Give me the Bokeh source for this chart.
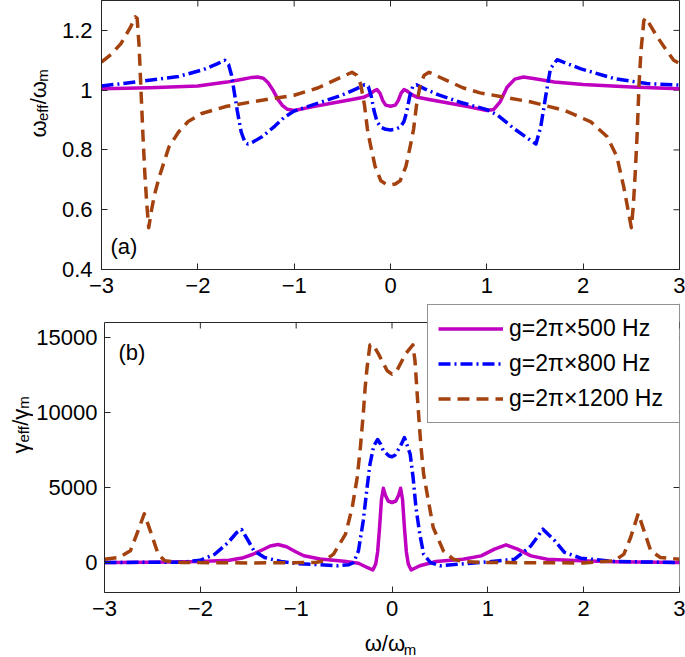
from bokeh.plotting import figure
from bokeh.models import FixedTicker, Label, Legend, LegendItem, Range1d, Span
from bokeh.layouts import column, row
from bokeh.embed import file_html
from bokeh.resources import INLINE

# ---------------- data ----------------
x_ticks = [-3, -2, -1, 0, 1, 2, 3]
x_tick_labels = ["−3", "−2", "−1", "0", "1", "2", "3"]
top_y_ticks = [0.4, 0.6, 0.8, 1.0, 1.2]
top_y_tick_labels = ["0.4", "0.6", "0.8", "1", "1.2"]
bot_y_ticks = [0, 5000, 10000, 15000]
bot_y_tick_labels = ["0", "5000", "10000", "15000"]
series_names = ["g=2π×500 Hz", "g=2π×800 Hz", "g=2π×1200 Hz"]

# (a) omega_eff / omega_m
w500_x = [-3.0, -2.5, -2.0, -1.7, -1.55, -1.45, -1.38, -1.32, -1.27, -1.22, -1.17, -1.12, -1.07, -1.0,
          -0.8, -0.6, -0.4, -0.28, -0.22, -0.17, -0.14, -0.11, -0.08, -0.05, 0.0,
          0.05, 0.08, 0.11, 0.14, 0.17, 0.22, 0.28, 0.4, 0.6, 0.8, 1.0, 1.07, 1.14, 1.21, 1.29,
          1.38, 1.5, 1.7, 2.0, 2.5, 3.0]
w500_y = [1.005, 1.008, 1.014, 1.027, 1.036, 1.042, 1.044, 1.040, 1.025, 1.000, 0.970, 0.948, 0.936, 0.932,
          0.945, 0.957, 0.969, 0.976, 0.985, 0.998, 1.002, 0.990, 0.965, 0.950, 0.946,
          0.950, 0.965, 0.990, 1.002, 0.998, 0.985, 0.976, 0.969, 0.957, 0.945, 0.932, 0.935, 0.962, 1.010, 1.037,
          1.044, 1.038, 1.027, 1.019, 1.011, 1.005]

w800_x = [-3.0, -2.6, -2.2, -1.95, -1.8, -1.72, -1.68, -1.65, -1.62, -1.59, -1.55, -1.51, -1.48, -1.42,
          -1.33, -1.2, -1.1, -1.0, -0.75, -0.5, -0.35, -0.27, -0.23, -0.2, -0.17, -0.14, -0.1, -0.05, 0.0,
          0.05, 0.1, 0.14, 0.17, 0.2, 0.23, 0.27, 0.35, 0.5, 0.75, 1.0, 1.11, 1.28, 1.45, 1.51, 1.56, 1.61,
          1.66, 1.73, 1.97, 2.32, 2.66, 3.0]
w800_y = [1.014, 1.029, 1.046, 1.068, 1.088, 1.100, 1.085, 1.050, 0.990, 0.930, 0.860, 0.825, 0.820, 0.828,
          0.845, 0.880, 0.910, 0.930, 0.957, 0.984, 1.005, 1.018, 1.012, 0.980, 0.930, 0.895, 0.876, 0.869, 0.867,
          0.869, 0.876, 0.895, 0.930, 0.980, 1.012, 1.018, 1.005, 0.984, 0.957, 0.935, 0.917, 0.872, 0.833, 0.820,
          0.878, 0.978, 1.072, 1.102, 1.072, 1.039, 1.022, 1.017]

w1200_x = [-3.0, -2.9, -2.8, -2.7, -2.65, -2.63, -2.61, -2.59, -2.57, -2.55, -2.53, -2.51, -2.48, -2.45,
           -2.4, -2.3, -2.2, -2.1, -1.96, -1.7, -1.4, -1.0, -0.75, -0.5, -0.4, -0.35, -0.31, -0.27, -0.24,
           -0.21, -0.16, -0.1, -0.05, 0.0, 0.05, 0.1, 0.16, 0.21, 0.24, 0.27, 0.31, 0.35, 0.4, 0.5, 0.75,
           0.93, 1.45, 1.8, 2.08, 2.25, 2.35, 2.42, 2.46, 2.5, 2.52, 2.54, 2.56, 2.58, 2.6, 2.63, 2.65,
           2.7, 2.77, 2.85, 2.94, 3.0]
w1200_y = [1.094, 1.120, 1.155, 1.210, 1.245, 1.240, 1.150, 1.000, 0.850, 0.720, 0.620, 0.540, 0.600, 0.650,
           0.710, 0.810, 0.860, 0.895, 0.922, 0.946, 0.963, 0.983, 1.008, 1.045, 1.060, 1.050, 1.020, 0.950,
           0.870, 0.820, 0.745, 0.697, 0.686, 0.683, 0.686, 0.697, 0.745, 0.820, 0.870, 0.950, 1.020, 1.050,
           1.060, 1.045, 1.008, 0.991, 0.961, 0.933, 0.894, 0.844, 0.778, 0.678, 0.610, 0.540, 0.610, 0.720,
           0.850, 1.020, 1.130, 1.233, 1.242, 1.215, 1.178, 1.140, 1.100, 1.089]

# (b) gamma_eff / gamma_m
g500_x = [-3.0, -2.5, -2.0, -1.7, -1.55, -1.45, -1.35, -1.27, -1.19, -1.1, -1.0, -0.92, -0.75, -0.5,
          -0.35, -0.26, -0.2, -0.17, -0.15, -0.13, -0.11, -0.09, -0.07, -0.04, 0.0,
          0.04, 0.07, 0.09, 0.11, 0.13, 0.15, 0.17, 0.2, 0.29, 0.46, 0.74, 0.93, 1.07, 1.19, 1.31,
          1.45, 1.62, 1.97, 2.32, 3.0]
g500_y = [0, 20, 70, 150, 320, 550, 850, 1100, 1200, 1050, 700, 450, 230, 80,
          -50, -330, -500, -100, 700, 2300, 4200, 4950, 4500, 4100, 4000,
          4100, 4500, 4950, 4200, 2300, 700, -100, -500, -220, 70, 220, 440, 890, 1180, 890,
          440, 220, 110, 44, 0]

g800_x = [-3.0, -2.2, -2.0, -1.85, -1.71, -1.62, -1.57, -1.5, -1.44, -1.33, -1.16, -1.0, -0.75, -0.57,
          -0.45, -0.4, -0.35, -0.3, -0.26, -0.23, -0.19, -0.15, -0.12, -0.09, -0.03, 0.0, 0.03, 0.09,
          0.13, 0.19, 0.22, 0.25, 0.29, 0.33, 0.4, 0.5, 0.71, 0.93, 1.28, 1.45, 1.575, 1.7, 1.8, 1.97,
          2.32, 3.0]
g800_y = [0, 20, 150, 550, 1330, 2000, 2200, 1450, 780, 330, 70, -70, -150, -220,
          -150, 0, 780, 2780, 5000, 6550, 7780, 8200, 7900, 7450, 7100, 7050, 7150, 7780,
          8330, 7220, 5670, 3670, 1890, 560, 0, -220, -110, 0, 220, 1110, 2220, 1440, 670, 290,
          67, 0]

g1200_x = [-3.0, -2.85, -2.73, -2.65, -2.585, -2.51, -2.44, -2.37, -2.2, -1.5, -0.8, -0.71, -0.61,
           -0.485, -0.415, -0.363, -0.33, -0.3, -0.28, -0.26, -0.23, -0.2, -0.14, -0.05, 0.0, 0.05,
           0.14, 0.218, 0.24, 0.27, 0.3, 0.33, 0.38, 0.43, 0.536, 0.64, 0.74, 1.0, 2.0, 2.32, 2.42,
           2.49, 2.57, 2.63, 2.7, 2.8, 3.0]
g1200_y = [220, 330, 780, 2110, 3250, 1890, 560, 110, 0, -30, 0, 110, 560,
           1890, 3670, 5670, 7670, 9890, 11670, 13000, 14500, 14550, 13890, 12780, 12560, 12780,
           13890, 14510, 13440, 10560, 7890, 5890, 4110, 2330, 780, 220, 67, 0, -30, 111, 556,
           1667, 3267, 2111, 778, 333, 222]

# ---------------- style ----------------
FONT = "Liberation Sans"
AX = "#262626"
COLORS = ["#c000c0", "#0000ff", "#a3420f"]
DASHES = ["solid", "12 4 2 4", "12 7"]
LW = 3.5
TICK = 6  # px, inward
EM = {"ω": 0.75, "γ": 0.5, "/": 0.278, "e": 0.556, "f": 0.278, "m": 0.833}

FRAME_L, FRAME_R = 101, 679
FRAME_W = FRAME_R - FRAME_L


def style_axis(ax, ticks, labels, standoff):
    ax.ticker = FixedTicker(ticks=ticks)
    ax.major_label_overrides = {t: l for t, l in zip(ticks, labels)}
    ax.major_tick_in = TICK
    ax.major_tick_out = 0
    ax.minor_tick_line_color = None
    ax.axis_line_color = AX
    ax.major_tick_line_color = AX
    ax.major_label_text_font = FONT
    ax.major_label_text_font_size = "22px"
    ax.major_label_text_color = "black"
    ax.major_label_standoff = standoff


def make_fig(width, height, left, top, bottom, yr):
    p = figure(width=width, height=height, x_range=Range1d(-3, 3), y_range=Range1d(*yr),
               output_backend="svg", toolbar_location=None, min_border_left=left,
               min_border_right=685 - FRAME_R, min_border_top=top, min_border_bottom=bottom)
    p.grid.visible = False
    p.background_fill_color = "white"
    p.border_fill_color = "white"
    return p


def add_text(p, text, x, y, size, angle=0):
    p.add_layout(Label(x=x, y=y, x_units="screen", y_units="screen", text=text, angle=angle,
                       angle_units="deg", text_font=FONT, text_font_size=f"{size}px",
                       text_align="left", text_baseline="alphabetic", text_color="black"))


def width_of(text, size):
    return sum(EM.get(c, 0.556) for c in text) * size


def vertical_label(p, pieces, x0, y0):
    y = y0
    for text, size, dx in pieces:
        add_text(p, text, x0 + dx, y, size, angle=90)
        y += width_of(text, size)


def text_fig(width, height):
    f = figure(width=width, height=height, x_range=Range1d(0, width), y_range=Range1d(0, height),
               output_backend="svg", toolbar_location=None, min_border=0,
               x_axis_location=None, y_axis_location=None)
    f.grid.visible = False
    f.outline_line_color = None
    f.background_fill_color = "white"
    f.border_fill_color = "white"
    return f


def box_ticks(p, yr, frame_h, y_top, xt, yt):
    # inward ticks on top edge (at y_top) and right edge (x = 3)
    dy = TICK * (yr[1] - yr[0]) / frame_h
    dx = TICK * 6.0 / FRAME_W
    p.segment(x0=xt, y0=[y_top] * len(xt), x1=xt, y1=[y_top - dy] * len(xt),
              line_color=AX, line_width=1)
    p.segment(x0=[3] * len(yt), y0=yt, x1=[3 - dx] * len(yt), y1=yt, line_color=AX, line_width=1)


# ---------------- top panel ----------------
L1_W = 50
TOP_H = 303
TOP_FRAME_H = 269
top_yr = (0.4, 1.3)
p1 = make_fig(685 - L1_W, TOP_H, FRAME_L - L1_W, 0, TOP_H - TOP_FRAME_H, top_yr)
p1.outline_line_color = AX
style_axis(p1.xaxis[0], x_ticks, x_tick_labels, 8)
style_axis(p1.yaxis[0], top_y_ticks, top_y_tick_labels, 9)
box_ticks(p1, top_yr, TOP_FRAME_H, top_yr[1], x_ticks, top_y_ticks)
top_series = [(w500_x, w500_y), (w800_x, w800_y), (w1200_x, w1200_y)]
for (xs, ys), c, d in zip(top_series, COLORS, DASHES):
    p1.line(xs, ys, line_color=c, line_width=LW, line_dash=d, line_join="round")
add_text(p1, "(a)", 9, 23, 22)

L1 = text_fig(L1_W, TOP_H)
vertical_label(L1, [("ω", 22, 0), ("eff", 15, 4), ("/ω", 22, 0), ("m", 15, 4)], 37.5, TOP_H - 171)

# ---------------- bottom panel ----------------
L2_W = 33
BOT_H = 324
BOT_FRAME_H = 289
BOX_TOP = 16000
bot_yr = (-2000, -2000 + (BOX_TOP + 2000) * BOT_FRAME_H / 270.0)
p2 = make_fig(685 - L2_W, BOT_H, FRAME_L - L2_W, 0, BOT_H - BOT_FRAME_H, bot_yr)
p2.outline_line_color = None
style_axis(p2.xaxis[0], x_ticks, x_tick_labels, 8)
style_axis(p2.yaxis[0], bot_y_ticks, bot_y_tick_labels, 7)
p2.yaxis[0].bounds = (bot_yr[0], BOX_TOP)
p2.add_layout(Span(location=BOX_TOP, dimension="width", line_color=AX, line_width=1))
p2.add_layout(Span(location=3, dimension="height", line_color=AX, line_width=1))
box_ticks(p2, bot_yr, BOT_FRAME_H, BOX_TOP, x_ticks, bot_y_ticks)
bot_series = [(g500_x, g500_y), (g800_x, g800_y), (g1200_x, g1200_y)]
rends = []
for (xs, ys), c, d in zip(bot_series, COLORS, DASHES):
    rends.append(p2.line(xs, ys, line_color=c, line_width=LW, line_dash=d, line_join="round"))
add_text(p2, "(b)", 14, 240, 22)

L2 = text_fig(L2_W, BOT_H)
vertical_label(L2, [("γ", 22, 0), ("eff", 15, 3), ("/γ", 22, 0), ("m", 15, 3)], 19.5, BOT_H - (488 - TOP_H))

legend = Legend(items=[LegendItem(label=n, renderers=[r]) for n, r in zip(series_names, rends)],
                location=(424 - FRAME_L, BOT_FRAME_H - (423 - TOP_H)))
legend.label_text_font = FONT
legend.label_text_font_size = "23px"
legend.label_text_color = "black"
legend.glyph_width = 65
legend.glyph_height = 27
legend.label_height = 27
legend.label_width = 163
legend.label_standoff = 6
legend.spacing = 8
legend.padding = 10
legend.margin = 0
legend.border_line_color = AX
legend.border_line_width = 1
legend.background_fill_color = "white"
legend.background_fill_alpha = 1.0
p2.add_layout(legend)

# ---------------- x label ----------------
XL_H = 657 - TOP_H - BOT_H
XL = text_fig(685, XL_H)
main_w = width_of("ω/ω", 22)
sub_w = width_of("m", 15)
x_start = (FRAME_L + FRAME_R) / 2 - (main_w + sub_w) / 2
add_text(XL, "ω/ω", x_start, 657 - 643, 22)
add_text(XL, "m", x_start + main_w, 657 - 649, 15)

layout = column(row(L1, p1), row(L2, p2), XL)
open("out.html", "w").write(file_html(layout, INLINE))
